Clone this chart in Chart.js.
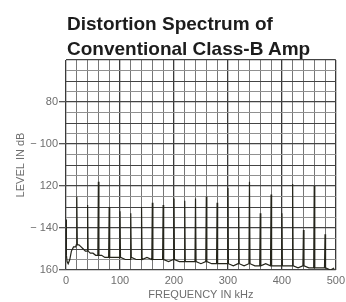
<!DOCTYPE html>
<html>
<head>
<meta charset="utf-8">
<script src="https://cdn.jsdelivr.net/npm/chart.js@4.4.1/dist/chart.umd.min.js"></script>
<style>
  html, body { margin: 0; padding: 0; background: #fff; }
  #wrap { position: relative; width: 346px; height: 302px; }
  #title {
    position: absolute; left: 67px; top: 11px;
    font: bold 19px "Liberation Sans", Arial, sans-serif;
    line-height: 25px; color: #1c1c1c; white-space: nowrap;
  }
  canvas { position: absolute; left: 0; top: 0; }
</style>
</head>
<body>
<div id="wrap">
  <canvas id="spectrum" width="346" height="302"></canvas>
  <div id="title">Distortion Spectrum of<br>Conventional Class-B Amp</div>
</div>
<script>
// Trace: frequency (kHz) and level (dB)
const traceFreq = [
  0, 0.5, 1, 2, 4, 7, 10, 14, 18, 19, 20, 21, 24, 28, 32, 36, 39, 40, 41, 45, 50, 55, 59, 60, 61,
  66, 72, 79, 80, 81, 90, 99, 100, 101, 110, 119, 120, 121, 130, 139, 140, 141, 150, 159, 160, 161,
  170, 179, 180, 181, 190, 199, 200, 201, 210, 219, 220, 221, 230, 239, 240, 241, 250, 259, 260, 261,
  270, 279, 280, 281, 290, 299, 300, 301, 310, 319, 320, 321, 330, 339, 340, 341, 350, 359, 360, 361,
  370, 379, 380, 381, 390, 399, 400, 401, 410, 419, 420, 421, 430, 439, 440, 441, 450, 459, 460, 461,
  470, 479, 480, 481, 490, 497
];
const traceLevel = [
  -152, -136, -153, -156, -157, -155, -151, -149, -149, -148, -125, -148, -148, -149, -150, -151, -151, -129, -151, -152, -152, -153, -153, -118, -153,
  -153, -154, -154, -130, -154, -154, -154, -132, -154, -155, -155, -133, -154, -155, -155, -130, -155, -154, -155, -128, -155,
  -155, -155, -129, -155, -156, -155, -126, -155, -156, -156, -127, -156, -156, -156, -126, -156, -157, -156, -125, -156,
  -157, -157, -128, -157, -157, -157, -121, -157, -158, -157, -130, -157, -158, -157, -118, -157, -158, -158, -133, -158,
  -157, -158, -124, -158, -158, -158, -133, -158, -158, -158, -119, -158, -159, -158, -141, -158, -159, -159, -120, -159,
  -159, -159, -143, -159, -160, -159
];

// Axes
const xGridFreqs = [0, 20, 40, 60, 80, 100, 120, 140, 160, 180, 200, 220, 240, 260, 280, 300, 320, 340, 360, 380, 400, 420, 440, 460, 480, 500];
const xLabelFreqs = [0, 100, 200, 300, 400, 500];
const yGridLevels = [-160, -155, -150, -145, -140, -135, -130, -125, -120, -115, -110, -105, -100, -95, -90, -85, -80, -75, -70, -65, -60];
const yLabelLevels = [-80, -100, -120, -140, -160];
const yLabelText = ['80', '\u2212 100', '120', '\u2212 140', '160'];

const tickFont = { family: '"Liberation Sans", Arial, sans-serif', size: 11 };
const tickGray = '#6e6e6e';

new Chart(document.getElementById('spectrum'), {
  type: 'line',
  data: {
    datasets: [{
      data: traceFreq.map((f, i) => ({ x: f, y: traceLevel[i] })),
      borderColor: '#24241a',
      borderWidth: 1.2,
      pointRadius: 0,
      tension: 0
    }]
  },
  options: {
    responsive: false,
    animation: false,
    layout: { padding: { top: 60, right: 10, left: 14, bottom: 0 } },
    plugins: { legend: { display: false }, tooltip: { enabled: false } },
    scales: {
      x: {
        type: 'linear',
        min: 0,
        max: 500,
        afterBuildTicks: s => { s.ticks = xGridFreqs.map(v => ({ value: v })); },
        afterFit: s => { s.height = 32; },
        grid: {
          color: c => (c.tick && c.tick.value % 100 === 0) ? '#3a3a3a' : '#777',
          lineWidth: c => (c.tick && c.tick.value % 100 === 0) ? 1.3 : 1,
          tickLength: 3,
          tickColor: 'transparent'
        },
        border: { display: false },
        ticks: {
          autoSkip: false,
          maxRotation: 0,
          padding: 1,
          color: tickGray,
          font: tickFont,
          callback: v => xLabelFreqs.includes(v) ? String(v) : ''
        },
        title: {
          display: true,
          text: 'FREQUENCY IN kHz',
          color: tickGray,
          font: tickFont,
          padding: { top: -2, bottom: 0 }
        }
      },
      y: {
        min: -160,
        max: -60,
        afterBuildTicks: s => { s.ticks = yGridLevels.map(v => ({ value: v })); },
        afterFit: s => { s.width = 52; },
        grid: {
          color: c => (c.tick && c.tick.value % 10 === 0) ? '#444' : '#909090',
          lineWidth: c => (c.tick && c.tick.value % 20 === 0) ? 1.3 : 1,
          tickLength: 7,
          tickColor: c => (c.tick && yLabelLevels.includes(c.tick.value)) ? '#555' : 'transparent'
        },
        border: { display: false },
        ticks: {
          autoSkip: false,
          padding: 1,
          color: tickGray,
          font: tickFont,
          callback: v => {
            const i = yLabelLevels.indexOf(v);
            return i >= 0 ? yLabelText[i] : '';
          }
        },
        title: {
          display: true,
          text: 'LEVEL IN dB',
          color: tickGray,
          font: tickFont,
          padding: { top: 0, bottom: 2 }
        }
      }
    }
  }
});
</script>
</body>
</html>
